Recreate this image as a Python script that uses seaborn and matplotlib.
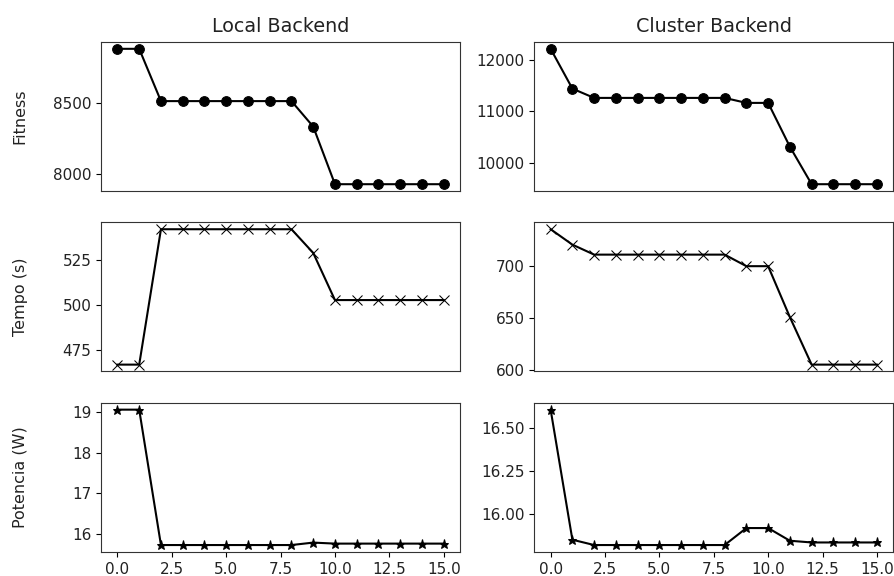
import matplotlib
matplotlib.use("Agg")
import matplotlib.pyplot as plt
import seaborn as sns
import numpy as np

iterations = list(range(16))

local_fitness = [8875, 8875, 8510, 8510, 8510, 8510, 8510, 8510, 8510, 8332,
                 7930, 7930, 7930, 7930, 7930, 7930]
local_tempo = [466.9, 466.9, 542.4, 542.4, 542.4, 542.4, 542.4, 542.4, 542.4, 529.2,
               502.9, 502.9, 502.9, 502.9, 502.9, 502.9]
local_potencia = [19.055, 19.055, 15.73, 15.73, 15.73, 15.73, 15.73, 15.73, 15.73, 15.79,
                  15.765, 15.765, 15.765, 15.765, 15.765, 15.765]

cluster_fitness = [12213, 11439, 11259, 11259, 11259, 11259, 11259, 11259, 11259, 11162,
                   11162, 10310, 9582, 9582, 9582, 9582]
cluster_tempo = [735.5, 720.7, 711.1, 711.1, 711.1, 711.1, 711.1, 711.1, 711.1, 700.0,
                 700.0, 651.0, 605.4, 605.4, 605.4, 605.4]
cluster_potencia = [16.606, 15.848, 15.817, 15.817, 15.817, 15.817, 15.817, 15.817, 15.817, 15.916,
                    15.916, 15.842, 15.832, 15.832, 15.832, 15.832]

col_titles = ["Local Backend", "Cluster Backend"]
row_labels = ["Fitness", "Tempo (s)", "Potencia (W)"]
markers = ["o", "x", "*"]

data = [
    [local_fitness, cluster_fitness],
    [local_tempo, cluster_tempo],
    [local_potencia, cluster_potencia],
]

fig, axes = plt.subplots(3, 2, figsize=(8.95, 5.76), dpi=100)
fig.subplots_adjust(left=0.113, right=0.998, bottom=0.042, top=0.927,
                    wspace=0.207, hspace=0.2115)

for r in range(3):
    for c in range(2):
        ax = axes[r, c]
        sns.lineplot(x=iterations, y=data[r][c], marker=markers[r], color="black",
                     markeredgecolor="black", markersize=7 if markers[r] == "o" else 6.5,
                     linewidth=1.5, ax=ax)
        for s in ax.spines.values():
            s.set_color("#333333")
        if r < 2:
            ax.set_xticks([])
        else:
            ax.set_xticks([0.0, 2.5, 5.0, 7.5, 10.0, 12.5, 15.0])
            ax.set_xticklabels(["0.0", "2.5", "5.0", "7.5", "10.0", "12.5", "15.0"])
        if c == 0:
            ax.set_ylabel(row_labels[r], fontsize=11.5, color="#222222")
            ax.yaxis.set_label_coords(-0.205, 0.5)
        if r == 0:
            ax.set_title(col_titles[c], fontsize=13.8, pad=7, color="#222222")
        ax.tick_params(labelsize=11, labelcolor="#222222")

axes[0, 0].set_yticks([8000, 8500])
axes[0, 1].set_yticks([10000, 11000, 12000])
axes[1, 0].set_yticks([475, 500, 525])
axes[1, 1].set_yticks([600, 650, 700])
axes[2, 0].set_yticks([16, 17, 18, 19])
axes[2, 1].set_yticks([16.00, 16.25, 16.50])
axes[2, 1].set_yticklabels(["16.00", "16.25", "16.50"])

fig.savefig("out.png", dpi=100)
